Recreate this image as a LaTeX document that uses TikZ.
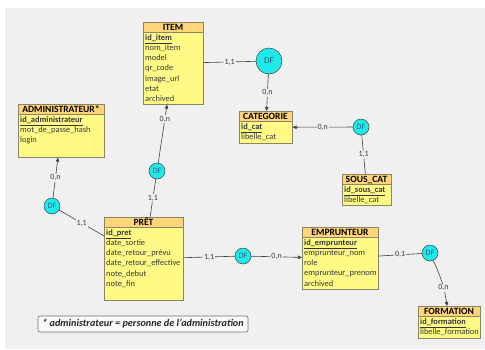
\documentclass[tikz,border=0pt]{standalone}
\usepackage{fontspec}
\setmainfont{Carlito}
\usetikzlibrary{arrows.meta,calc}
\definecolor{bg}{HTML}{F0F0F0}
\definecolor{entfill}{HTML}{FFFA85}
\definecolor{hdrfill}{HTML}{FFD57A}
\definecolor{entline}{HTML}{8C8464}
\definecolor{dfcyan}{HTML}{1EEAEA}
\definecolor{dftext}{HTML}{2A5F8A}
\definecolor{linkc}{HTML}{404040}
\definecolor{txt}{HTML}{383838}
\definecolor{notefill}{HTML}{FAFAFA}
\definecolor{noteline}{HTML}{707070}
\tikzset{
 entbody/.style={draw=entline, fill=entfill, line width=0.6pt, inner sep=0pt, rectangle},
 hdr/.style={draw=entline, fill=hdrfill, line width=0.6pt},
 ttl/.style={font=\fontsize{9.6}{9.6}\selectfont\bfseries, text=black, inner sep=0pt, anchor=base},
 attr/.style={font=\fontsize{8.4}{8.4}\selectfont, text=txt, inner sep=0pt, anchor=base west},
 df/.style={circle, draw=linkc, fill=dfcyan, line width=0.5pt, inner sep=0pt, minimum size=16pt, font=\fontsize{8.2}{8.2}\selectfont, text=dftext},
 link/.style={draw=linkc, line width=0.6pt},
 arr/.style={-{Triangle[length=4pt,width=3.5pt]}},
 card/.style={fill=bg, inner sep=1pt, font=\fontsize{8}{8}\selectfont, text=txt},
 notebox/.style={draw=noteline, fill=notefill, rounded corners=2pt, line width=0.6pt, minimum width=210pt, minimum height=16pt, inner sep=0pt, font=\fontsize{10.2}{10.2}\selectfont\bfseries\itshape, text=black!85},
}
\newcommand{\erent}[8]{%
 \node[entbody, anchor=north west, minimum width=#4pt, minimum height=#5pt] (#1) at (#2,#3) {};
 \draw[hdr] (#2,#3) rectangle (#2+#4,#3+10);
 \node[ttl] at (#2+#4/2,#3+8.5) {#6};
 \node[attr] at (#2+2,#3+18.3) {\underline{\textbf{#7}}};
 \foreach \a [count=\i] in {#8} {\node[attr] at (#2+2,#3+18.3+10.2*\i) {\a};}
}
\begin{document}
\begin{tikzpicture}[x=1pt,y=-1pt]
\useasboundingbox (0,0) rectangle (485,349);
\fill[white] (0,0) rectangle (485,349);
\fill[bg] (5,8) rectangle (485,349);

\erent{item}{143}{22}{60}{82}{ITEM}{id\_item}{nom\_item,model,qr\_code,image\_url,etat,archived}
\erent{admin}{18}{104}{86}{53}{ADMINISTRATEUR*}{id\_administrateur}{mot\_de\_passe\_hash,login}
\erent{cat}{239}{111}{53}{32}{CATEGORIE}{id\_cat}{libelle\_cat}
\erent{souscat}{342}{174}{49}{31}{SOUS\_CAT}{id\_sous\_cat}{libelle\_cat}
\erent{emp}{302}{227}{76}{62}{EMPRUNTEUR}{id\_emprunteur}{emprunteur\_nom,role,emprunteur\_prenom,archived}
\erent{form}{418}{306}{62}{32}{FORMATION}{id\_formation}{libelle\_formation}
\erent{pret}{104}{217}{79}{83}{PRÊT}{id\_pret}{date\_sortie,date\_retour\_prévu,date\_retour\_effective,note\_debut,note\_fin}

\node[df, minimum size=26pt, font=\fontsize{9}{9}\selectfont] (df1) at (269,61) {DF};
\node[df] (df2) at (361,127) {DF};
\node[df] (df3) at (157,171) {DF};
\node[df] (df4) at (52,206) {DF};
\node[df] (df5) at (243,256) {DF};
\node[df] (df6) at (430,253) {DF};

\draw[link] (item) -- node[card]{1,1} (df1);
\draw[link,arr] (df1) -- node[card]{0,n} (cat);
\draw[link,arr] (df2) -- node[card]{0,n} (cat);
\draw[link] (df2) -- node[card]{1,1} (souscat);
\draw[link,arr] (df3) -- node[card,pos=0.75]{0,n} (item);
\draw[link] (df3) -- node[card]{1,1} (pret);
\draw[link,arr] (df4) -- node[card]{0,n} (admin);
\draw[link] (df4) -- node[card]{1,1} (pret);
\draw[link] (pret) -- node[card]{1,1} (df5);
\draw[link,arr] (df5) -- node[card]{0,n} (emp);
\draw[link] (emp) -- node[card]{0,1} (df6);
\draw[link,arr] (df6) to[bend left=8] node[card,pos=0.62]{0,n} (form);

\node[notebox] (note) at (143,324) {* administrateur = personne de l'administration};
\end{tikzpicture}
\end{document}
